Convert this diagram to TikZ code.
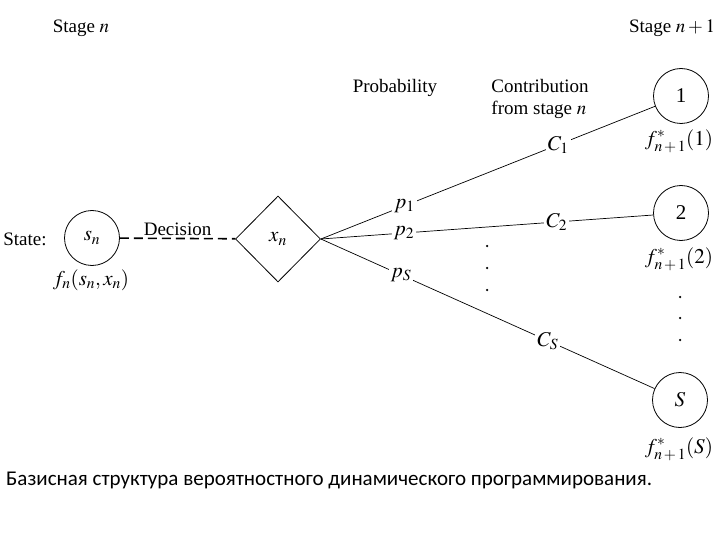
\documentclass[tikz,border=0pt]{standalone}
\usepackage{mathptmx}
\usepackage{fontspec}
\setmainfont{Liberation Serif}
\newfontfamily\capfont{Carlito}
\usetikzlibrary{shapes.geometric}
\begin{document}
\begin{tikzpicture}[x=1pt,y=-1pt,
  every node/.style={font=\fontsize{19}{22}\selectfont, inner sep=1pt},
  mth/.style={font=\fontsize{21}{24}\selectfont},
  st/.style={circle,draw,minimum size=55pt,inner sep=0pt,line width=0.8pt,font=\fontsize{21}{24}\selectfont},
  dec/.style={diamond,draw,minimum width=85pt,minimum height=86pt,inner sep=0pt,line width=0.8pt,font=\fontsize{21}{24}\selectfont},
  lbl/.style={fill=white,inner sep=2pt,font=\fontsize{21}{24}\selectfont},
  con/.style={line width=0.7pt},
  dotn/.style={circle,fill,inner sep=0pt,minimum size=2.5pt}]
\useasboundingbox (0,0) rectangle (720,540);
\node (stagen) at (81,28) {Stage $n$};
\node (stagen1) at (672,28) {Stage $n+1$};
\node (prob) at (395,88) {Probability};
\node[align=left] (contr) at (540,99) {Contribution\\from stage $n$};
\node (state) at (25,239) {State:};
\node[st] (sn) at (92,238) {$s_n$};
\node[mth] (fn) at (91,280) {$f_n(s_n, x_n)$};
\node[dec] (xn) at (278,239) {$x_n$};
\draw[line width=1.6pt,dash pattern=on 9pt off 5pt] (sn) -- node[above,yshift=1pt] (decision) {Decision} (xn);
\node[st] (s1) at (681,96) {1};
\node[st] (s2) at (681,213) {2};
\node[st] (sS) at (680,400) {$S$};
\node[mth] (f1) at (679,141) {$f^*_{n\,+\,1}(1)$};
\node[mth] (f2) at (679,259) {$f^*_{n\,+\,1}(2)$};
\node[mth] (fS) at (679,449) {$f^*_{n\,+\,1}(S)$};
\draw[con] (xn.east) -- node[lbl,pos=0.25] (p1) {$p_1$} node[lbl,pos=0.71] (c1) {$C_1$} (s1);
\draw[con] (xn.east) -- node[lbl,pos=0.25] (p2) {$p_2$} node[lbl,pos=0.71] (c2) {$C_2$} (s2);
\draw[con] (xn.east) -- node[lbl,pos=0.24] (pS) {$p_S$} node[lbl,pos=0.68] (cS) {$C_S$} (sS);
\node[dotn] (m1) at (487,246) {};
\node[dotn] (m2) at (487,268) {};
\node[dotn] (m3) at (487,290) {};
\node[dotn] (r1) at (680,297) {};
\node[dotn] (r2) at (680,318) {};
\node[dotn] (r3) at (680,340) {};
\node[anchor=west,font=\capfont\fontsize{21}{24}\selectfont] (cap) at (5,480) {Базисная структура вероятностного динамического программирования.};
\end{tikzpicture}
\end{document}
